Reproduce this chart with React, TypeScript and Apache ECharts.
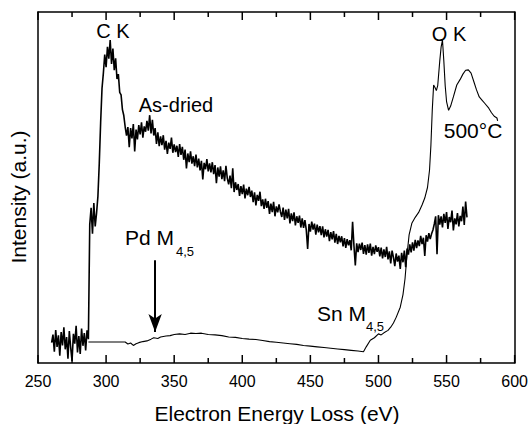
import React, { useEffect, useRef } from "react";
import * as echarts from "echarts";

// X-axis (energy loss, eV)
const xMin = 250;
const xMax = 600;
const xInterval = 50;
const majorTicks = [250, 300, 350, 400, 450, 500, 550, 600];
const minorTicks = [275, 325, 375, 425, 475, 525, 575];

// As-dried spectrum, one sample per eV starting at 260 eV (intensity, a.u.)
const asDriedStart = 260;
const asDriedValues = [
  5.8, 8.1, 3.2, 9.4, 4.6, 7.9, 2.1, 8.8, 5.0, 10.2,
  3.9, 7.4, 1.2, 9.1, 4.4, 0.6, 8.3, 5.5, 10.6, 3.0,
  7.7, 2.6, 9.8, 4.9, 8.5, 3.6, 9.3, 6.8,
  39.5, 44.2, 36.8, 45.6, 38.9, 42.7, 47.5, 57.0, 68.5, 78.2, 82.6, 87.9,
  84.3, 90.1, 86.7, 92.0, 85.2, 89.6, 83.4, 86.8, 80.9, 82.3, 77.1, 76.4,
  72.2, 70.5, 67.3,
  64.8, 67.2, 61.5, 66.9, 64.0, 68.1, 60.3, 66.5, 63.7, 67.8, 65.1, 68.6,
  64.2, 67.4, 65.9, 69.0,
  66.2, 70.6, 65.4, 69.3, 64.8,
  66.9, 62.4, 65.7, 61.8, 64.6,
  62.1, 64.9, 60.8, 63.3, 59.6, 62.8, 61.0, 64.2, 59.9, 62.3, 60.1, 61.9,
  58.7, 62.4, 59.3, 61.6, 57.9, 60.8, 55.4, 59.7, 57.2, 60.3, 56.8, 58.9,
  56.1, 59.4, 55.7, 58.2, 54.9, 57.6, 52.3, 57.0, 55.2, 58.1, 54.6, 56.9,
  54.3, 57.2, 53.8, 56.4, 51.2, 55.7, 53.1, 56.0, 52.4, 54.9, 51.8, 56.2, 52.6,
  50.9, 53.4, 49.8, 55.5, 48.7, 51.5, 49.3,
  51.0, 47.6, 50.4, 48.1, 50.8, 46.9, 49.7, 47.8, 50.2, 47.3,
  49.1, 45.8, 48.6, 44.9, 47.9, 46.2, 48.8, 44.7, 46.6,
  43.9, 46.8, 44.2, 46.1, 42.5, 45.4, 43.0, 45.9, 41.8, 44.6, 42.9, 45.2, 43.1,
  41.6, 44.3, 40.8, 43.7, 41.2, 43.9, 39.8, 42.6, 40.4, 42.9, 39.2, 41.8, 39.9, 42.0, 38.6,
  41.2, 38.5, 40.7, 37.9, 32.5, 39.6, 37.4, 40.3, 38.0, 39.7, 36.6, 39.4, 37.2, 39.0,
  36.4, 38.9, 35.8, 38.1, 36.0, 37.9, 34.7, 37.3, 35.2, 37.6, 34.3, 36.8, 33.9, 36.2, 34.4,
  36.1, 33.2, 35.6, 32.8, 35.3, 33.5, 35.0, 32.1, 40.2, 33.4, 27.8, 34.1, 31.6, 34.0, 32.2,
  34.3, 31.1, 33.6, 30.9, 33.8, 31.4, 34.0, 30.6, 33.1, 31.0, 33.5, 31.7,
  33.0, 30.4, 32.9, 29.8, 32.4, 30.2, 33.1, 29.5, 31.8, 28.4, 32.0, 30.1,
  27.6, 31.2, 28.9, 30.6, 26.8,
  31.4, 28.7, 32.0, 27.3, 32.6, 30.9, 33.8, 31.5,
  34.4, 32.0, 35.1, 32.7, 34.9, 33.3, 36.2, 33.9, 35.7, 30.5, 36.4, 34.6, 37.0, 35.3,
  36.8, 37.9, 39.6, 41.8, 31.0,
  42.1, 39.4, 41.8, 38.6, 42.5, 39.9, 43.0, 38.2, 41.6, 40.1, 43.4, 37.8,
  41.2, 39.5, 42.7, 38.9, 41.9, 40.4, 44.6, 39.3, 46.0, 41.5,
];

// 500 °C spectrum: energies (eV) and intensities (a.u.)
const heatEnergies = [
  287, 314, 316, 318, 320, 322, 324, 327, 330, 333, 335, 338, 340, 344, 347, 350,
  354, 358, 362, 366, 370, 375, 380, 385, 390, 395, 400, 405, 410, 415, 420, 425,
  430, 435, 440, 445, 450, 455, 460, 465, 470, 475, 480, 485, 489, 491, 494, 497,
  500, 502, 504, 507, 509, 511, 513, 516, 518, 519.5, 521, 522.5, 524.5, 527, 529.5,
  532, 534, 536, 537.5, 538.5, 539.5, 540.5, 541.5, 542.5, 543.5, 545, 546, 547, 548,
  549, 550, 551.5, 553, 555, 557.5, 560, 562, 564, 566, 568, 570, 572, 574, 576, 578,
  581, 583, 585, 587, 587.5,
];
const heatValues = [
  6.0, 6.0, 5.4, 5.7, 5.0, 5.5, 5.8, 6.1, 6.3, 6.8, 7.2, 7.0, 7.4, 7.7, 7.8, 8.1,
  8.3, 8.1, 8.5, 8.4, 8.5, 8.1, 8.0, 7.8, 7.4, 7.3, 7.0, 6.8, 6.7, 6.4, 6.1, 5.9,
  5.7, 5.5, 5.3, 5.0, 4.8, 4.6, 4.4, 4.2, 4.0, 3.8, 3.6, 3.4, 3.2, 4.6, 6.5, 7.2,
  8.3, 8.0, 8.6, 9.3, 10.2, 11.4, 13.0, 15.9, 19.5, 24.0, 31.0, 36.5, 39.8, 41.5, 42.9,
  45.0, 47.0, 50.0, 55.0, 62.0, 72.0, 79.2, 78.5, 77.6, 79.0, 86.0, 90.0, 92.0, 86.0,
  79.0, 74.5, 72.0, 73.2, 75.8, 79.2, 80.8, 82.3, 83.4, 83.5, 82.6, 80.2, 77.8, 75.8, 74.9, 74.0,
  72.6, 71.3, 70.3, 69.8, 69.0,
];

// Pd M4,5 arrow: energy and intensity span
const arrowEnergy = 336;
const arrowFrom = 29.3;
const arrowTo = 8.8;

const FONT = "Liberation Sans, Arial, Helvetica, sans-serif";

export default function App() {
  const ref = useRef<HTMLDivElement>(null);

  useEffect(() => {
    if (!ref.current) return;
    const chart = echarts.init(ref.current, undefined, { renderer: "svg" });

    const asDried = asDriedValues.map((v, i) => [asDriedStart + i, v]);
    const heated = heatEnergies.map((e, i) => [e, heatValues[i]]);
    const tickData = [
      ...majorTicks.map((v) => [v, 8]),
      ...minorTicks.map((v) => [v, 5]),
    ];

    const makeX = (position: string, showLabel: boolean) => ({
      type: "value",
      min: xMin,
      max: xMax,
      interval: xInterval,
      position,
      splitLine: { show: false },
      axisLine: { show: true, onZero: false, lineStyle: { color: "#000", width: 1.5 } },
      axisTick: { show: false },
      minorTick: { show: false },
      axisLabel: showLabel
        ? { show: true, fontSize: 16, color: "#000", margin: 10, fontFamily: FONT }
        : { show: false },
    });
    const makeY = (position: string) => ({
      type: "value",
      min: 0,
      max: 100,
      position,
      splitLine: { show: false },
      axisLine: { show: true, onZero: false, lineStyle: { color: "#000", width: 1.5 } },
      axisTick: { show: false },
      axisLabel: { show: false },
    });

    const text = (
      x: number,
      y: number,
      t: string,
      size: number,
      align: string = "center",
      rotation = 0
    ) => ({
      type: "text",
      x,
      y,
      rotation,
      silent: true,
      style: {
        text: t,
        fontSize: size,
        fontFamily: FONT,
        fill: "#000",
        textAlign: align,
        textVerticalAlign: "middle",
      },
    });

    chart.setOption({
      animation: false,
      backgroundColor: "#fff",
      grid: { left: 38, right: 16, top: 12, bottom: 61 },
      xAxis: [makeX("bottom", true), makeX("top", false)],
      yAxis: [makeY("left"), makeY("right")],
      series: [
        {
          name: "ticks",
          type: "custom",
          silent: true,
          clip: false,
          z: 10,
          xAxisIndex: 0,
          yAxisIndex: 0,
          data: tickData,
          renderItem: (params: any, api: any) => {
            const x = api.value(0);
            const len = api.value(1);
            const b = api.coord([x, 0]);
            const t = api.coord([x, 100]);
            const style = { stroke: "#000", lineWidth: 1.5 };
            return {
              type: "group",
              children: [
                { type: "line", shape: { x1: b[0], y1: b[1], x2: b[0], y2: b[1] - len }, style },
                { type: "line", shape: { x1: t[0], y1: t[1], x2: t[0], y2: t[1] + len }, style },
              ],
            };
          },
        },
        {
          name: "As-dried",
          type: "line",
          data: asDried,
          xAxisIndex: 0,
          yAxisIndex: 0,
          showSymbol: false,
          symbol: "none",
          lineStyle: { color: "#000", width: 1.6 },
        },
        {
          name: "500°C",
          type: "line",
          data: heated,
          xAxisIndex: 0,
          yAxisIndex: 0,
          showSymbol: false,
          symbol: "none",
          lineStyle: { color: "#000", width: 1.1 },
          markLine: {
            silent: true,
            symbol: ["none", "arrow"],
            symbolSize: [10, 18],
            label: { show: false },
            lineStyle: { color: "#000", width: 2, type: "solid" },
            data: [
              [
                { coord: [arrowEnergy, arrowFrom] },
                { coord: [arrowEnergy, arrowTo] },
              ],
            ],
          },
        },
      ],
      graphic: [
        text(113, 31, "C K", 20),
        text(176, 105, "As-dried", 20),
        text(449, 34, "O K", 20),
        text(473, 130, "500°C", 21),
        text(125, 237, "Pd M", 21, "left"),
        text(176, 251, "4,5", 13, "left"),
        text(317, 313, "Sn M", 21, "left"),
        text(366, 326, "4,5", 13, "left"),
        text(277, 413, "Electron Energy Loss (eV)", 21),
        text(18, 197, "Intensity (a.u.)", 21, "center", Math.PI / 2),
      ],
    });

    return () => chart.dispose();
  }, []);

  return (
    <div
      ref={ref}
      style={{ position: "absolute", left: 0, top: 0, width: 531, height: 424, background: "#fff" }}
    />
  );
}
